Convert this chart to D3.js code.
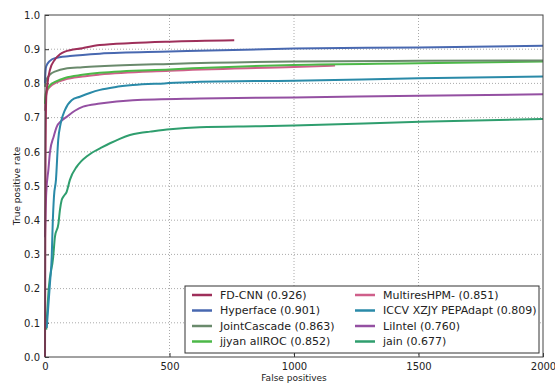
<!DOCTYPE html>
<html>
<head>
<meta charset="utf-8">
<script src="https://cdn.jsdelivr.net/npm/d3@7"></script>
<style>
  body { margin: 0; background: #fff; }
  text { font-family: "DejaVu Sans", sans-serif; fill: #222; }
  .grid line { stroke: #aaa; stroke-dasharray: 1,2; }
  .axis path { display: none; }
  .axis line { stroke: #333; }
</style>
</head>
<body>
<div class="chart"></div>
<script>
// series names, as in the legend
let names = ["FD-CNN (0.926)", "Hyperface (0.901)", "JointCascade (0.863)", "jjyan allROC (0.852)",
             "MultiresHPM- (0.851)", "ICCV XZJY PEPAdapt (0.809)", "LiIntel (0.760)", "jain (0.677)"];
let colors = ["#9e2f5a", "#4868b0", "#6a8a6c", "#4cb848", "#cf5f8a", "#2a8aa8", "#9450a2", "#2f9e6e"];

// false positive / true positive rate
let fdcnnFP = [0, 1, 2, 5, 10, 20, 40, 60, 80, 150, 220, 350, 500, 760];
let fdcnnTP = [0, 0.3, 0.55, 0.76, 0.8, 0.84, 0.87, 0.885, 0.893, 0.903, 0.912, 0.918, 0.922, 0.926];

let hyperFP = [0, 2, 5, 20, 40, 100, 220, 500, 1000, 1500, 2000];
let hyperTP = [0.8, 0.835, 0.85, 0.866, 0.874, 0.88, 0.887, 0.893, 0.902, 0.905, 0.91];

let jointFP = [0, 3, 20, 45, 80, 150, 220, 500, 1000, 1500, 2000];
let jointTP = [0.79, 0.805, 0.826, 0.836, 0.843, 0.847, 0.85, 0.857, 0.864, 0.866, 0.867];

let jjyanFP = [0, 3, 20, 45, 80, 150, 220, 500, 1000, 1500, 2000];
let jjyanTP = [0.74, 0.77, 0.795, 0.806, 0.816, 0.825, 0.831, 0.841, 0.854, 0.859, 0.864];

let multiFP = [0, 3, 10, 20, 45, 80, 150, 220, 500, 1000, 1165];
let multiTP = [0.72, 0.76, 0.78, 0.79, 0.802, 0.811, 0.82, 0.826, 0.837, 0.848, 0.852];

let iccvFP = [7, 20, 27, 31, 36, 44, 53, 63, 80, 107, 140, 180, 221, 280, 353, 480, 622, 1000, 1500, 2000];
let iccvTP = [0.085, 0.216, 0.293, 0.39, 0.469, 0.518, 0.634, 0.683, 0.722, 0.751, 0.761, 0.772, 0.781, 0.789, 0.795, 0.8, 0.805, 0.808, 0.815, 0.82];

let lintelFP = [0, 5, 14, 20, 35, 47, 65, 87, 120, 153, 221, 353, 622, 1000, 1500, 2000];
let lintelTP = [0.35, 0.48, 0.55, 0.6, 0.645, 0.673, 0.69, 0.702, 0.72, 0.732, 0.741, 0.751, 0.756, 0.759, 0.764, 0.768];

let jainFP = [5, 15, 33, 40, 54, 60, 67, 75, 87, 100, 127, 145, 167, 190, 221, 261, 300, 341, 380, 422, 502, 622, 863, 1000, 1506, 2000];
let jainTP = [0.08, 0.2, 0.293, 0.352, 0.39, 0.43, 0.459, 0.47, 0.483, 0.518, 0.556, 0.572, 0.586, 0.598, 0.61, 0.625, 0.638, 0.649, 0.655, 0.659, 0.666, 0.672, 0.675, 0.677, 0.688, 0.696];

let xTicks = [0, 500, 1000, 1500, 2000];
let yTicks = [0, 0.1, 0.2, 0.3, 0.4, 0.5, 0.6, 0.7, 0.8, 0.9, 1.0];

let fpList = [fdcnnFP, hyperFP, jointFP, jjyanFP, multiFP, iccvFP, lintelFP, jainFP];
let tpList = [fdcnnTP, hyperTP, jointTP, jjyanTP, multiTP, iccvTP, lintelTP, jainTP];

let series = names.map((n, i) => {
    return {
        name: n,
        color: colors[i],
        values: fpList[i].map((fp, j) => ({ fp: fp, tp: tpList[i][j] }))
    };
});

let margin = { top: 15, right: 12, bottom: 31, left: 45 };
let width = 555 - margin.left - margin.right;
let height = 388 - margin.top - margin.bottom;

let svg = d3.select(".chart").append("svg")
    .attr("width", 555)
    .attr("height", 388);

let plot = svg.append("g")
    .attr("transform", `translate(${margin.left},${margin.top})`);

let xScale = d3.scaleLinear().domain([0, 2000]).range([0, width]);
let yScale = d3.scaleLinear().domain([0, 1]).range([height, 0]);

// dotted grid
let grid = plot.append("g").attr("class", "grid");
grid.selectAll("line.gx").data(xTicks.slice(1, -1)).enter().append("line")
    .attr("class", "gx")
    .attr("x1", d => xScale(d)).attr("x2", d => xScale(d))
    .attr("y1", 0).attr("y2", height);
grid.selectAll("line.gy").data(yTicks.slice(1, -1)).enter().append("line")
    .attr("class", "gy")
    .attr("x1", 0).attr("x2", width)
    .attr("y1", d => yScale(d)).attr("y2", d => yScale(d));

// axes with inward ticks
let xAxis = plot.append("g").attr("class", "axis")
    .attr("transform", `translate(0,${height})`)
    .call(d3.axisBottom(xScale).tickValues(xTicks).tickFormat(d3.format("d")).tickSizeInner(-4).tickPadding(6));
let yAxis = plot.append("g").attr("class", "axis")
    .call(d3.axisLeft(yScale).tickValues(yTicks).tickFormat(d3.format(".1f")).tickSizeInner(-4).tickPadding(5));
xAxis.selectAll("text").style("font-size", "10px").style("fill", "#222");
yAxis.selectAll("text").style("font-size", "10px").style("fill", "#222");

let line = d3.line()
    .curve(d3.curveMonotoneX)
    .x(d => xScale(d.fp))
    .y(d => yScale(d.tp));

// draw from last to first so FD-CNN sits on top
plot.selectAll(".roc").data(series.slice().reverse()).enter().append("path")
    .attr("class", "roc")
    .attr("d", d => line(d.values))
    .attr("fill", "none")
    .attr("stroke", d => d.color)
    .attr("stroke-width", 2)
    .attr("stroke-linejoin", "round");

// frame
plot.append("rect")
    .attr("width", width).attr("height", height)
    .attr("fill", "none").attr("stroke", "#444").attr("stroke-width", 1);

// axis titles
svg.append("text")
    .attr("x", margin.left + width / 2).attr("y", 381)
    .attr("text-anchor", "middle")
    .style("font-size", "9px")
    .text("False positives");
svg.append("text")
    .attr("transform", `translate(20,${margin.top + height / 2}) rotate(-90)`)
    .attr("text-anchor", "middle")
    .style("font-size", "9px")
    .text("True positive rate");

// legend
let legend = svg.append("g").attr("transform", "translate(185,286)");
legend.append("rect")
    .attr("width", 354).attr("height", 67)
    .attr("fill", "#fff").attr("stroke", "#333").attr("stroke-width", 1);

let item = legend.selectAll(".item").data(series).enter().append("g")
    .attr("class", "item")
    .attr("transform", (d, i) => `translate(${i < 4 ? 7 : 170},${9 + (i % 4) * 15.5})`);
item.append("line")
    .attr("x1", 0).attr("x2", 20)
    .attr("stroke", d => d.color).attr("stroke-width", 2.5);
item.append("text")
    .attr("x", 28).attr("dy", "0.35em")
    .style("font-size", "11px")
    .text(d => d.name);
</script>
</body>
</html>
